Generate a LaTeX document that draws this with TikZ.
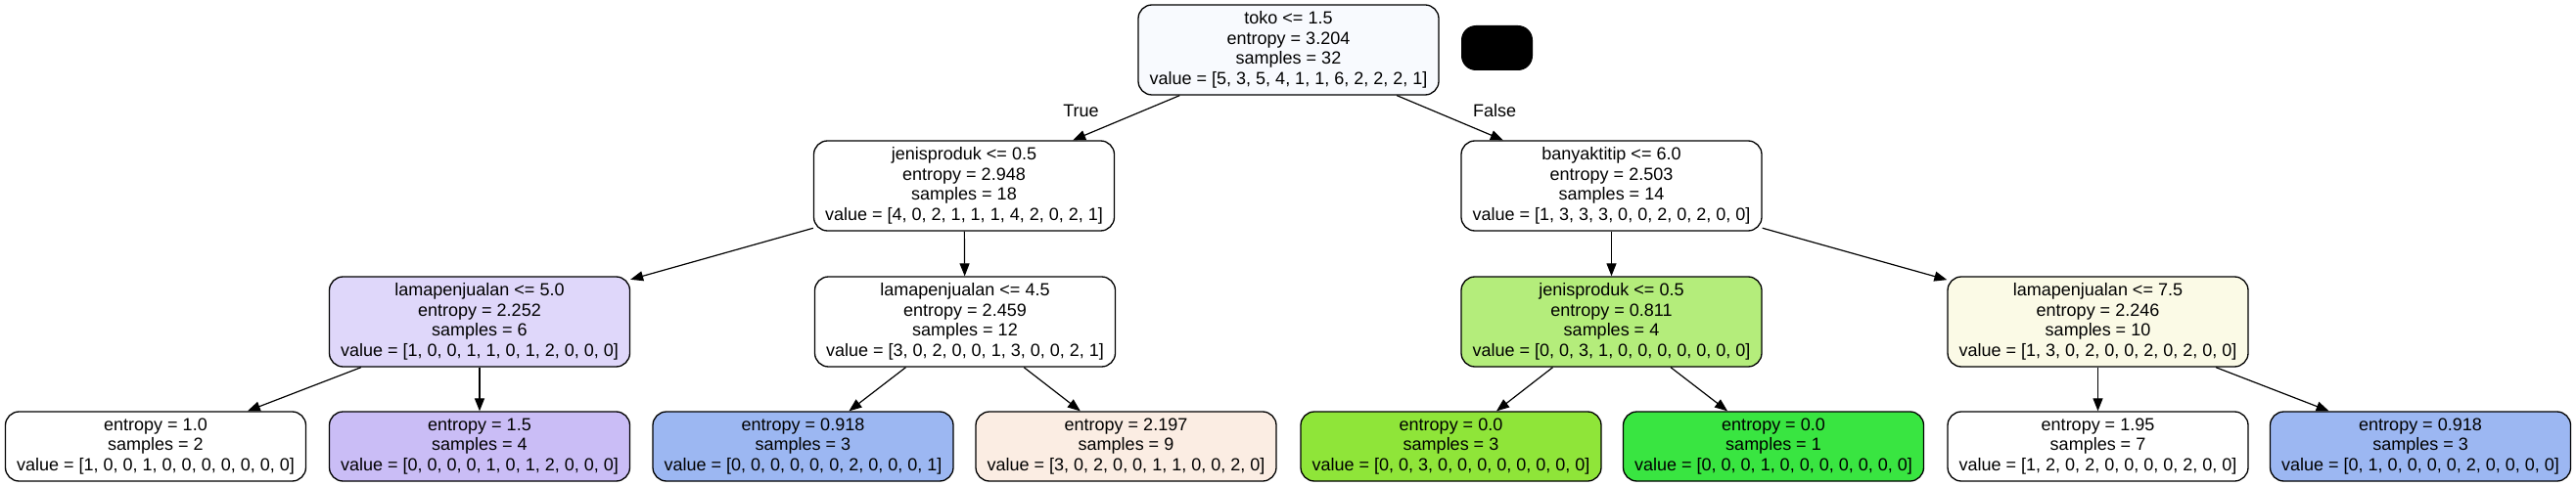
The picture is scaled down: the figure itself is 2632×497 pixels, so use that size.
\documentclass[tikz,border=0pt]{standalone}
\usepackage{fontspec}
\setmainfont{Liberation Sans}
\usetikzlibrary{arrows.meta}

\definecolor{rootfill}{RGB}{248,250,254}
\definecolor{lavlight}{RGB}{223,215,250}
\definecolor{lavmid}{RGB}{202,189,246}
\definecolor{bluemid}{RGB}{156,183,242}
\definecolor{peach}{RGB}{251,237,227}
\definecolor{greenlight}{RGB}{180,237,123}
\definecolor{greenfull}{RGB}{143,229,57}
\definecolor{greenpure}{RGB}{57,229,65}
\definecolor{cream}{RGB}{251,250,230}

\begin{document}
\begin{tikzpicture}[>={Triangle[length=13pt,width=10pt]}, x=1pt, y=-1pt,
    decision/.style={draw=black, line width=1.3pt, rounded corners=14pt, minimum width=307pt,
        minimum height=92pt, inner sep=0pt, align=center, font=\fontsize{18}{20.5}\selectfont},
    leaf/.style={decision, minimum height=71pt},
    link/.style={->, line width=1.2pt}]

    \useasboundingbox (0,0) rectangle (2632,497);

    \node[decision, fill=rootfill] (root) at (1316.5,51) {toko <= 1.5\\entropy = 3.204\\samples = 32\\value = [5, 3, 5, 4, 1, 1, 6, 2, 2, 2, 1]};
    \node[fill=black, rounded corners=15pt, minimum width=73pt, minimum height=46pt, inner sep=0pt] (key) at (1529.5,49) {};

    \node[decision] (jenis) at (985,190) {jenisproduk <= 0.5\\entropy = 2.948\\samples = 18\\value = [4, 0, 2, 1, 1, 1, 4, 2, 0, 2, 1]};
    \node[decision] (banyak) at (1646.5,190) {banyaktitip <= 6.0\\entropy = 2.503\\samples = 14\\value = [1, 3, 3, 3, 0, 0, 2, 0, 2, 0, 0]};

    \node[decision, fill=lavlight] (lamaA) at (490,329) {lamapenjualan <= 5.0\\entropy = 2.252\\samples = 6\\value = [1, 0, 0, 1, 1, 0, 1, 2, 0, 0, 0]};
    \node[decision] (lamaB) at (986,329) {lamapenjualan <= 4.5\\entropy = 2.459\\samples = 12\\value = [3, 0, 2, 0, 0, 1, 3, 0, 0, 2, 1]};
    \node[decision, fill=greenlight] (jenisB) at (1646.5,329) {jenisproduk <= 0.5\\entropy = 0.811\\samples = 4\\value = [0, 0, 3, 1, 0, 0, 0, 0, 0, 0, 0]};
    \node[decision, fill=cream] (lamaC) at (2143.5,329) {lamapenjualan <= 7.5\\entropy = 2.246\\samples = 10\\value = [1, 3, 0, 2, 0, 0, 2, 0, 2, 0, 0]};

    \node[leaf] (l1) at (159,456.5) {entropy = 1.0\\samples = 2\\value = [1, 0, 0, 1, 0, 0, 0, 0, 0, 0, 0]};
    \node[leaf, fill=lavmid] (l2) at (490,456.5) {entropy = 1.5\\samples = 4\\value = [0, 0, 0, 0, 1, 0, 1, 2, 0, 0, 0]};
    \node[leaf, fill=bluemid] (l3) at (820.5,456.5) {entropy = 0.918\\samples = 3\\value = [0, 0, 0, 0, 0, 0, 2, 0, 0, 0, 1]};
    \node[leaf, fill=peach] (l4) at (1150.5,456.5) {entropy = 2.197\\samples = 9\\value = [3, 0, 2, 0, 0, 1, 1, 0, 0, 2, 0]};
    \node[leaf, fill=greenfull] (l5) at (1482.5,456.5) {entropy = 0.0\\samples = 3\\value = [0, 0, 3, 0, 0, 0, 0, 0, 0, 0, 0]};
    \node[leaf, fill=greenpure] (l6) at (1812,456.5) {entropy = 0.0\\samples = 1\\value = [0, 0, 0, 1, 0, 0, 0, 0, 0, 0, 0]};
    \node[leaf] (l7) at (2143.5,456.5) {entropy = 1.95\\samples = 7\\value = [1, 2, 0, 2, 0, 0, 0, 0, 2, 0, 0]};
    \node[leaf, fill=bluemid] (l8) at (2473,456.5) {entropy = 0.918\\samples = 3\\value = [0, 1, 0, 0, 0, 0, 2, 0, 0, 0, 0]};

    \draw[link] (root) -- (jenis);
    \draw[link] (root) -- (banyak);
    \node[font=\fontsize{18}{20.5}\selectfont] (ttrue) at (1104.5,113) {True};
    \node[font=\fontsize{18}{20.5}\selectfont] (tfalse) at (1527,113) {False};

    \draw[link] (jenis) -- (lamaA);
    \draw[link] (jenis) -- (lamaB);
    \draw[link] (banyak) -- (jenisB);
    \draw[link] (banyak) -- (lamaC);

    \draw[link] (lamaA) -- (l1);
    \draw[link] (lamaA) -- (l2);
    \draw[link] (lamaB) -- (l3);
    \draw[link] (lamaB) -- (l4);
    \draw[link] (jenisB) -- (l5);
    \draw[link] (jenisB) -- (l6);
    \draw[link] (lamaC) -- (l7);
    \draw[link] (lamaC) -- (l8);

\end{tikzpicture}
\end{document}
